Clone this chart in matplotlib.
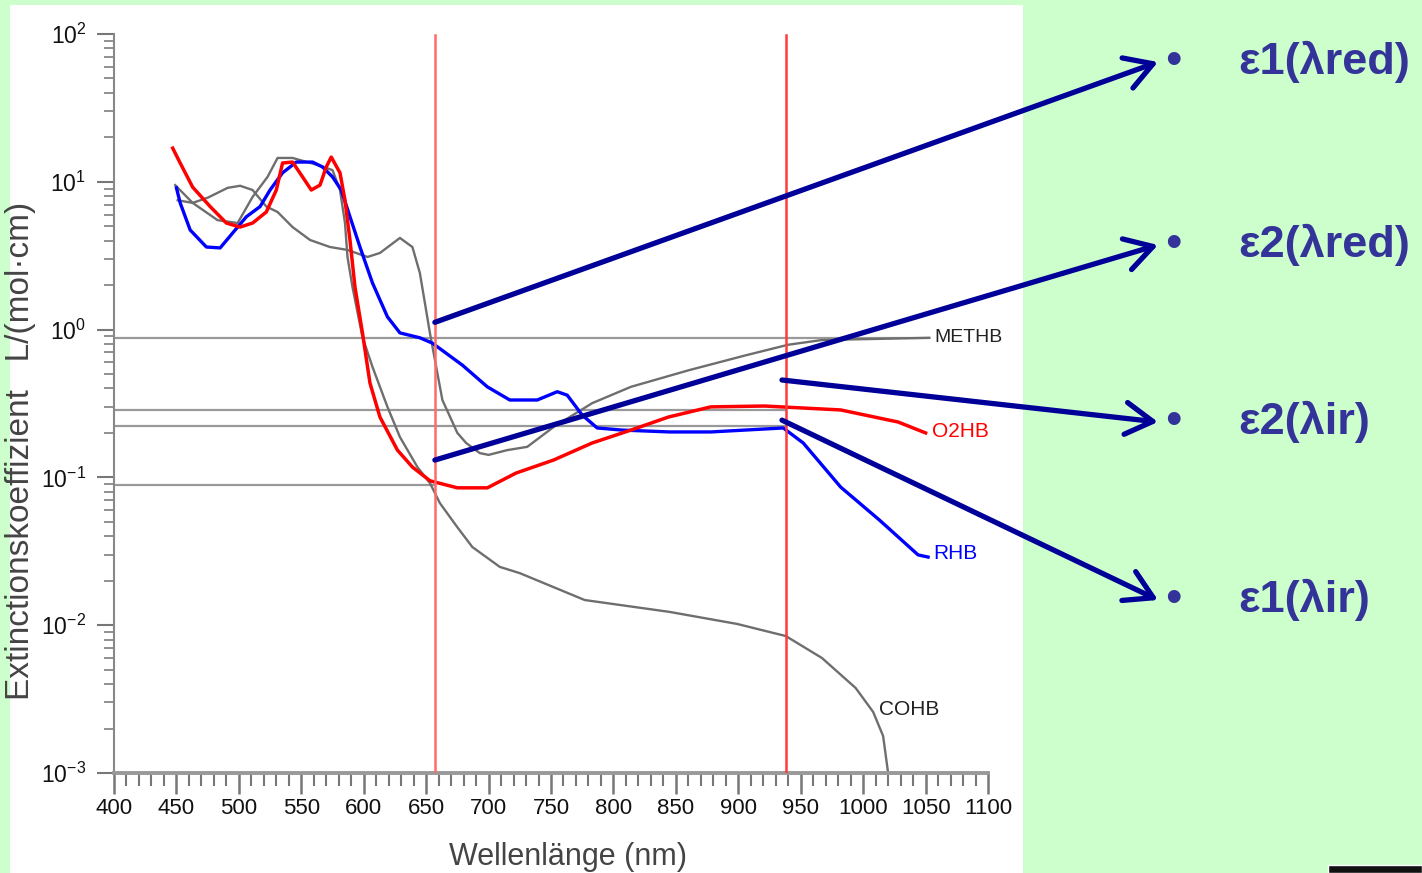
import matplotlib
matplotlib.use('Agg')
import matplotlib.pyplot as plt
from matplotlib.patches import Rectangle
from matplotlib.ticker import MultipleLocator, LogLocator, NullFormatter

plt.rcParams['font.family'] = ['Liberation Sans', 'DejaVu Sans']
plt.rcParams['mathtext.fontset'] = 'custom'
plt.rcParams['mathtext.rm'] = 'Liberation Sans'
plt.rcParams['mathtext.default'] = 'regular'

# Extinktionsspektren, Wellenlaenge in nm
o2hb_wl = [447, 453, 463, 477, 490, 501, 511, 522, 530, 535, 543, 551, 558, 565, 570, 574,
           581, 585, 589, 593, 599, 605, 613, 627, 639, 653, 657, 675, 699, 722, 752, 783,
           814, 844, 878, 921, 982, 1028, 1050]
o2hb_eps = [16.9, 13.4, 9.2, 6.8, 5.26, 4.94, 5.26, 6.25, 8.8, 13.4, 13.6, 10.8, 8.8, 9.5, 12.6, 14.7,
            11.5, 7.5, 4.04, 1.94, 0.95, 0.435, 0.256, 0.153, 0.1175, 0.095, 0.093, 0.085, 0.085, 0.107,
            0.131, 0.171, 0.209, 0.256, 0.30, 0.304, 0.286, 0.237, 0.2]

rhb_wl = [450, 453, 461, 474, 485, 495, 506, 517, 525, 535, 546, 559, 567, 575, 582, 589,
          597, 607, 619, 629, 645, 655, 679, 699, 717, 739, 755, 763, 775, 787, 807, 845,
          878, 936, 952, 982, 1013, 1044, 1052]
rhb_eps = [9.1, 7.2, 4.72, 3.62, 3.57, 4.5, 5.8, 6.8, 8.8, 11.5, 13.6, 13.6, 12.6, 10.8, 8.8, 5.8,
           3.62, 2.07, 1.22, 0.95, 0.88, 0.81, 0.575, 0.41, 0.334, 0.334, 0.38, 0.36, 0.264, 0.216,
           0.209, 0.203, 0.203, 0.216, 0.171, 0.086, 0.0515, 0.0299, 0.0289]

methb_wl = [451, 463, 475, 491, 501, 511, 522, 531, 543, 557, 573, 587, 603, 613, 629, 639,
            645, 653, 663, 675, 682, 693, 700, 715, 731, 752, 783, 814, 860, 906, 940, 967, 1053]
methb_eps = [7.5, 7.2, 7.8, 9.1, 9.4, 8.8, 6.8, 6.25, 4.94, 4.04, 3.62, 3.46, 3.1, 3.3, 4.17, 3.62,
             2.41, 0.95, 0.334, 0.2, 0.171, 0.146, 0.142, 0.153, 0.161, 0.219, 0.318, 0.41, 0.53,
             0.67, 0.79, 0.85, 0.88]

cohb_wl = [449, 463, 483, 499, 511, 523, 531, 543, 563, 575, 581, 585, 587, 591, 599, 607,
           619, 629, 643, 653, 661, 675, 687, 709, 725, 777, 845, 899, 938, 967, 994, 1008,
           1016, 1020]
cohb_eps = [9.5, 7.2, 5.5, 5.26, 7.9, 10.8, 14.5, 14.5, 13.0, 12.0, 8.8, 5.26, 3.1, 1.94, 0.89, 0.56,
            0.30, 0.1875, 0.1175, 0.0917, 0.067, 0.046, 0.0338, 0.0248, 0.0225, 0.0148, 0.0123,
            0.0102, 0.00845, 0.006, 0.00376, 0.00259, 0.00178, 0.001]

# waagrechte Hilfslinien und die beiden Messwellenlaengen
ref_levels = [0.88, 0.286, 0.223, 0.089]
ref_ends = [1053, 938, 938, 657]
marker_wl = [657, 938]
marker_colors = ['#ff6b6b', '#ff3b3b']

# Pfeile: Startpunkt im Diagramm -> Aufzaehlungspunkt rechts
arrow_wl = [657, 657, 935, 935]
arrow_eps = [1.12, 0.131, 0.456, 0.244]
bullet_labels = ['ε1(λred)', 'ε2(λred)', 'ε2(λir)', 'ε1(λir)']
bullet_y_px = [62, 245, 422, 600]

W, H = 1422, 873
fig = plt.figure(figsize=(W / 100, H / 100), dpi=100)
fig.patch.set_facecolor('#ccffcc')

# weisse Flaeche hinter dem Diagramm
panel = Rectangle((10 / W, 0), 1013 / W, 868 / H, transform=fig.transFigure,
                  facecolor='white', edgecolor='none', zorder=-10)
fig.add_artist(panel)
corner = Rectangle((1328 / W, 0), 94 / W, 8 / H, transform=fig.transFigure,
                   facecolor='#111111', edgecolor='white', lw=1, zorder=-5)
fig.add_artist(corner)

ax = fig.add_axes([114 / W, (H - 773) / H, 874 / W, 739 / H])
ax.set_facecolor('none')
ax.set_yscale('log')
ax.set_xlim(400, 1100)
ax.set_ylim(1e-3, 1e2)

for lvl, end in zip(ref_levels, ref_ends):
    ax.plot([400, end], [lvl, lvl], color='#999999', lw=1.6, zorder=1)

ax.plot(methb_wl, methb_eps, color='#6e6e6e', lw=1.7, zorder=2)
ax.plot(cohb_wl, cohb_eps, color='#6e6e6e', lw=1.7, zorder=2)
ax.plot(rhb_wl, rhb_eps, color='#0000ff', lw=2.4, zorder=3)
ax.plot(o2hb_wl, o2hb_eps, color='#ff0000', lw=2.5, zorder=4)

for wl, c in zip(marker_wl, marker_colors):
    ax.axvline(wl, ymin=0, ymax=0.998, color=c, lw=1.8, zorder=5)

ax.text(1057, 0.88, 'METHB', color='#222222', fontsize=14, ha='left', va='center')
ax.text(1055, 0.203, 'O2HB', color='#ff0000', fontsize=15, ha='left', va='center')
ax.text(1056, 0.0306, 'RHB', color='#0000ff', fontsize=15, ha='left', va='center')
ax.text(1013, 0.0027, 'COHB', color='#222222', fontsize=15, ha='left', va='center')

# Achsen
for s in ['top', 'right']:
    ax.spines[s].set_visible(False)
ax.spines['left'].set_color('#888888')
ax.spines['left'].set_linewidth(1.5)
ax.spines['bottom'].set_color('#999999')
ax.spines['bottom'].set_linewidth(2.8)

ax.set_xticks(range(400, 1101, 50))
ax.xaxis.set_minor_locator(MultipleLocator(10))
ax.tick_params(axis='x', which='major', direction='out', length=15, width=1.8,
               color='#777777', labelsize=16, pad=3, labelcolor='#111111')
ax.tick_params(axis='x', which='minor', direction='out', length=9, width=1.5, color='#777777')
ax.yaxis.set_major_locator(LogLocator(base=10, numticks=10))
ax.yaxis.set_minor_locator(LogLocator(base=10, subs=range(2, 10), numticks=20))
ax.yaxis.set_minor_formatter(NullFormatter())
ax.tick_params(axis='y', which='major', direction='out', length=12, width=1.5,
               color='#777777', labelsize=16.5, pad=8, labelcolor='#111111')
ax.tick_params(axis='y', which='minor', direction='out', length=7, width=1.3, color='#888888')

fig.text(568 / W, 1 - 857 / H, 'Wellenlänge (nm)', ha='center', va='center',
         fontsize=22, color='#444444')
fig.text(21 / W, 1 - 700 / H, 'Extinctionskoeffizient   L/(mol·cm)', rotation=90,
         ha='center', va='bottom', fontsize=24, color='#444444')

# Pfeile und Aufzaehlung rechts
for wl, eps, ypx, lab in zip(arrow_wl, arrow_eps, bullet_y_px, bullet_labels):
    ax.annotate('', xy=(1158 / W, 1 - ypx / H), xycoords='figure fraction',
                xytext=(wl, eps), textcoords='data', annotation_clip=False,
                arrowprops=dict(arrowstyle='->,head_length=0.85,head_width=0.5',
                                mutation_scale=23, lw=3.8, color='#000099',
                                shrinkA=0, shrinkB=0), zorder=10)
    fig.text(1173 / W, 1 - ypx / H, '•', ha='center', va='center', fontsize=34,
             color='#333399')
    fig.text(1238 / W, 1 - ypx / H, lab, ha='left', va='center', fontsize=32.5,
             fontweight='bold', color='#333399')

fig.savefig('out.png', dpi=100, facecolor=fig.get_facecolor())
